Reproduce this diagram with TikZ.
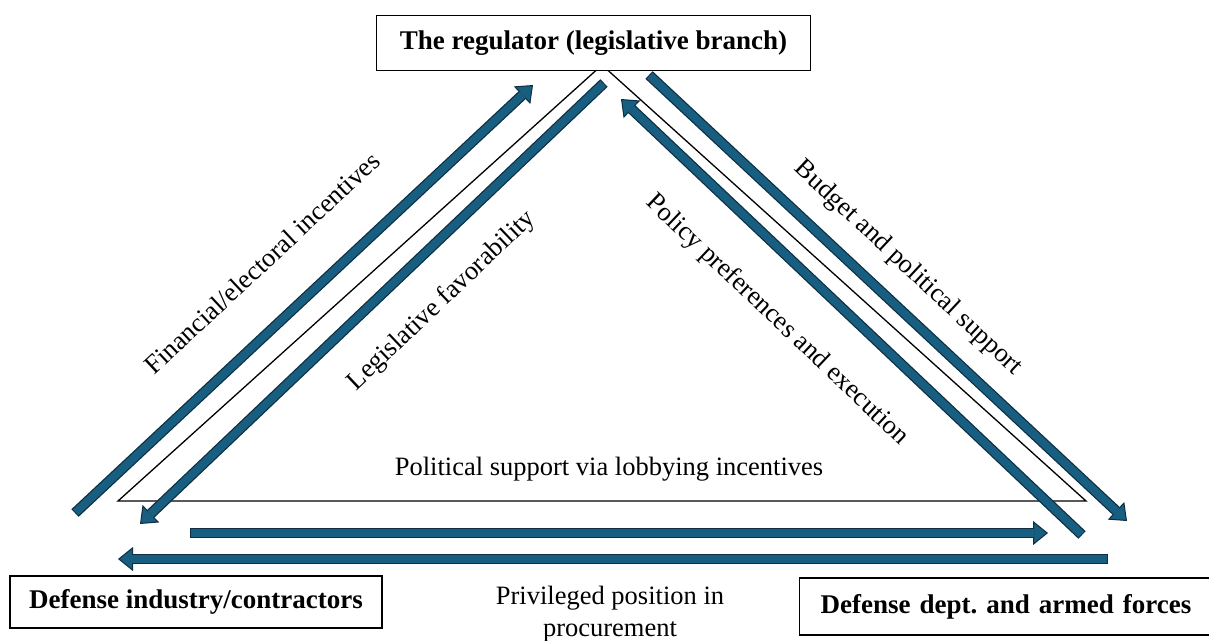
\documentclass[tikz,border=0pt]{standalone}
\usepackage{fontspec}
\setmainfont{Liberation Serif}
\usetikzlibrary{arrows.meta}
\definecolor{flowfill}{RGB}{24,94,128}
\definecolor{flowedge}{RGB}{14,46,66}

\begin{document}
\begin{tikzpicture}[x=1pt,y=-1pt,
    actor/.style={draw,fill=white,line width=1.2pt,inner sep=0pt,font=\fontsize{27}{32}\selectfont\bfseries},
    lbl/.style={inner sep=0pt,font=\fontsize{26.5}{32}\selectfont},
    flow/.style={draw=flowedge,line width=10.5pt,
      -{Triangle[length=15pt,width=24pt,line width=1pt,fill=flowfill,color=flowedge]},
      postaction={draw=flowfill,line width=8pt,arrows=-,shorten <=1pt,shorten >=14pt}}]
  \useasboundingbox (0,0) rectangle (1209,640);

  % triangle, its apex hidden under the regulator box
  \coordinate (apex) at (602,65);
  \coordinate (lcorner) at (118,501);
  \coordinate (rcorner) at (1086,501);
  \draw[line width=1.3pt] (apex) -- (lcorner) -- (rcorner) -- cycle;

  \node[actor,minimum width=434pt,minimum height=55pt] (regulator) at (593.5,42.75) {The regulator (legislative branch)};
  \node[actor,minimum width=372pt,minimum height=52pt] (industry) at (196,602) {Defense industry/contractors};
  \node[actor,anchor=west,minimum height=57pt,text width=390pt,inner xsep=21pt,align=left] (military) at (799,606.5) {Defense dept.\ and armed forces};

  \coordinate (fin1) at (75,513);   \coordinate (fin2) at (533,85);
  \coordinate (leg1) at (604,83);   \coordinate (leg2) at (140,524);
  \coordinate (pol1) at (1082,535); \coordinate (pol2) at (621,99);
  \coordinate (bud1) at (649,75);   \coordinate (bud2) at (1127,521);
  \coordinate (lob1) at (190,533);  \coordinate (lob2) at (1048,533);
  \coordinate (pro1) at (1108,559); \coordinate (pro2) at (118,559);

  \draw[flow] (fin1) -- (fin2);
  \draw[flow] (leg1) -- (leg2);
  \draw[flow] (pol1) -- (pol2);
  \draw[flow] (bud1) -- (bud2);
  \draw[flow] (lob1) -- (lob2);
  \draw[flow] (pro1) -- (pro2);

  \node[lbl,rotate=43] (finlbl) at (262,263) {Financial/electoral incentives};
  \node[lbl,rotate=43.5] (leglbl) at (442,301) {Legislative favorability};
  \node[lbl,rotate=-43.5] (pollbl) at (777,320) {Policy preferences and execution};
  \node[lbl,rotate=-43] (budlbl) at (908,268) {Budget and political support};
  \node[lbl] (lobbylbl) at (609,469) {Political support via lobbying incentives};
  \node[lbl,align=center] (proclbl) at (610,614) {Privileged position in\\procurement};
\end{tikzpicture}
\end{document}
